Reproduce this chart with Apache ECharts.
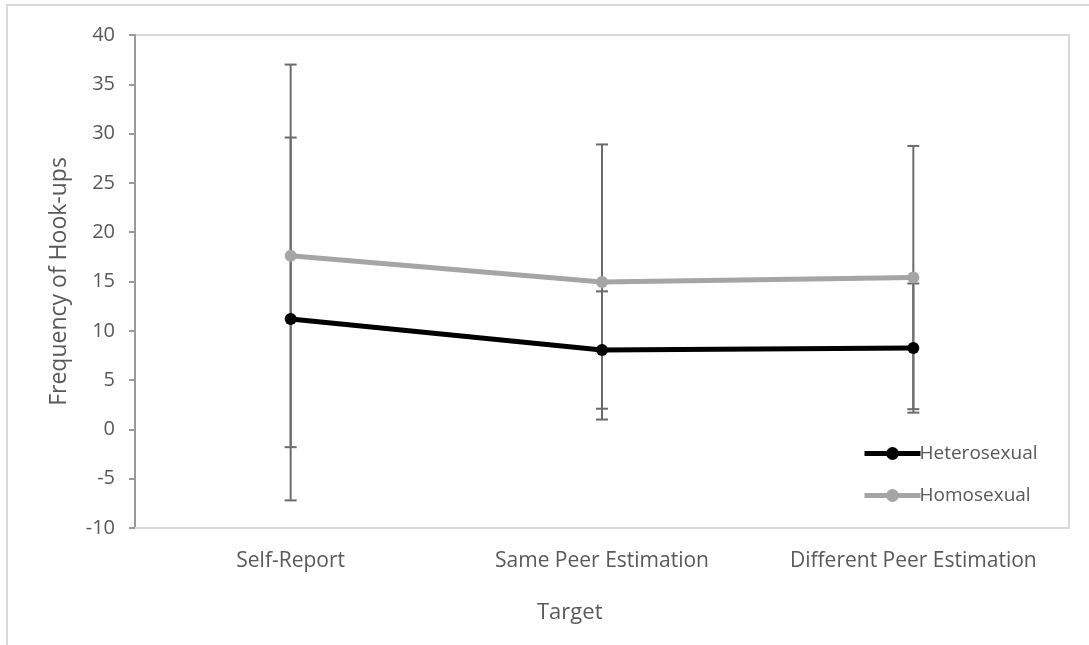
<!DOCTYPE html>
<html>
<head>
<meta charset="utf-8">
<title>Frequency of Hook-ups by Target</title>
<script src="https://cdn.jsdelivr.net/npm/echarts@6/dist/echarts.min.js"></script>
<style>
  html, body { margin: 0; padding: 0; background: #ffffff; }
  #chart { width: 1089px; height: 645px; }
</style>
</head>
<body>
<div id="chart"></div>
<script>
// Targets on the x axis
const categories = ['Self-Report', 'Same Peer Estimation', 'Different Peer Estimation'];

// Mean frequency of hook-ups and the error-bar half width (SD) per group
const heteroMean = [11.2, 8.05, 8.25];
const heteroErr  = [18.4, 5.95, 6.55];
const homoMean   = [17.6, 14.95, 15.4];
const homoErr    = [19.4, 13.95, 13.35];

// Y axis ticks
const yMin = -10, yMax = 40, yStep = 5;

const textColor = '#595959';
const fontFamily = '"Open Sans", "DejaVu Sans", sans-serif';

function errorRows(mean, err) {
  return mean.map((m, i) => [i, m - err[i], m + err[i]]);
}

function renderErrorBar(params, api) {
  const x = api.value(0);
  const lo = api.coord([x, api.value(1)]);
  const hi = api.coord([x, api.value(2)]);
  const half = 6;
  const style = { stroke: '#6b6b6b', lineWidth: 2 };
  return {
    type: 'group',
    children: [
      { type: 'line', shape: { x1: hi[0], y1: hi[1], x2: lo[0], y2: lo[1] }, style },
      { type: 'line', shape: { x1: hi[0] - half, y1: hi[1], x2: hi[0] + half, y2: hi[1] }, style },
      { type: 'line', shape: { x1: lo[0] - half, y1: lo[1], x2: lo[0] + half, y2: lo[1] }, style }
    ]
  };
}

const chart = echarts.init(document.getElementById('chart'), null, { renderer: 'canvas' });

chart.setOption({
  backgroundColor: '#ffffff',
  animation: false,
  textStyle: { fontFamily },
  graphic: [{
    type: 'rect',
    shape: { x: 7, y: 5, width: 1200, height: 800 },
    style: { fill: 'none', stroke: '#d9d9d9', lineWidth: 2 },
    silent: true,
    z: -10
  }, {
    type: 'text',
    left: 537,
    top: 602,
    style: { text: 'Target', fill: textColor, font: '22px "Open Sans", sans-serif' }
  }],
  grid: {
    left: 135, right: 20, top: 35, bottom: 117,
    show: true, borderColor: '#d9d9d9', borderWidth: 2, backgroundColor: 'transparent'
  },
  legend: {
    orient: 'vertical',
    left: 857,
    top: 439,
    itemWidth: 56,
    itemHeight: 16,
    itemGap: 23,
    data: [
      { name: 'Heterosexual', lineStyle: { width: 5, color: '#000000' } },
      { name: 'Homosexual', lineStyle: { width: 5, color: '#a5a5a5' } }
    ],
    textStyle: { color: textColor, fontSize: 19, fontFamily, padding: [0, 0, 0, -6] }
  },
  xAxis: {
    type: 'category',
    data: categories,
    boundaryGap: true,
    axisLine: { onZero: false, lineStyle: { color: '#d9d9d9', width: 2 } },
    axisTick: { show: false },
    axisLabel: { color: textColor, fontSize: 21, fontFamily, margin: 23, interval: 0 },
    splitLine: { show: false }
  },
  yAxis: {
    type: 'value',
    min: yMin, max: yMax, interval: yStep,
    name: 'Frequency of Hook-ups',
    nameLocation: 'middle',
    nameRotate: 90,
    nameGap: 64,
    nameTextStyle: { color: textColor, fontSize: 23, fontFamily },
    axisLine: { show: true, lineStyle: { color: '#9a9a9a', width: 2 } },
    axisTick: { show: true, inside: false, length: 6, lineStyle: { color: '#9a9a9a', width: 2 } },
    axisLabel: { color: textColor, fontSize: 20, fontFamily, margin: 20 },
    splitLine: { show: false }
  },
  series: [
    {
      name: 'Heterosexual error',
      type: 'custom',
      renderItem: renderErrorBar,
      data: errorRows(heteroMean, heteroErr),
      encode: { x: 0, y: [1, 2] },
      z: 1,
      silent: true
    },
    {
      name: 'Homosexual error',
      type: 'custom',
      renderItem: renderErrorBar,
      data: errorRows(homoMean, homoErr),
      encode: { x: 0, y: [1, 2] },
      z: 1,
      silent: true
    },
    {
      name: 'Homosexual',
      type: 'line',
      data: homoMean,
      symbol: 'circle',
      symbolSize: 12,
      lineStyle: { color: '#a5a5a5', width: 5 },
      itemStyle: { color: '#a5a5a5' },
      z: 3
    },
    {
      name: 'Heterosexual',
      type: 'line',
      data: heteroMean,
      symbol: 'circle',
      symbolSize: 12,
      lineStyle: { color: '#000000', width: 5 },
      itemStyle: { color: '#000000' },
      z: 4
    }
  ]
});
</script>
</body>
</html>
